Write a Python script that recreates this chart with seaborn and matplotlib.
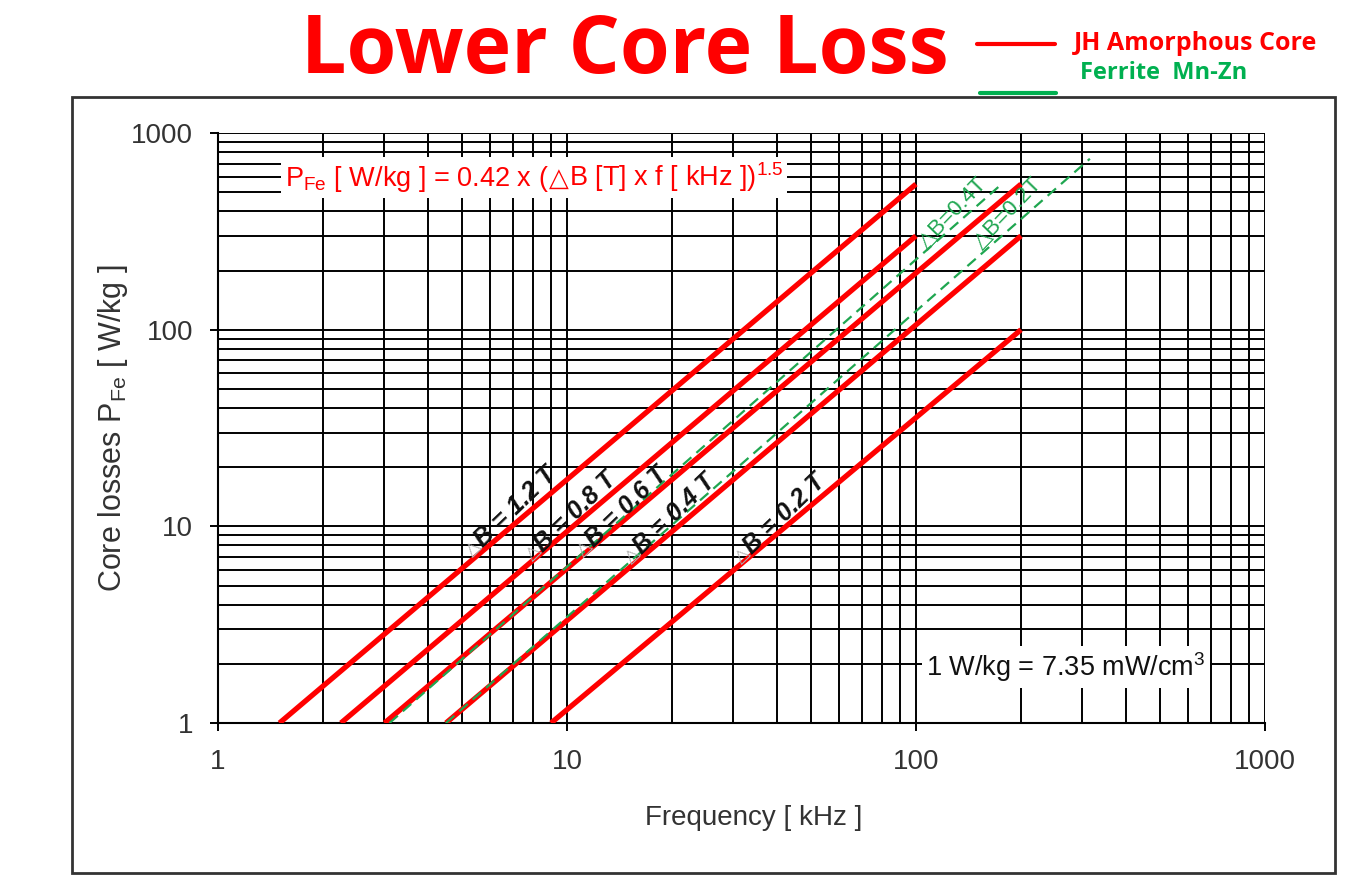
import matplotlib
matplotlib.use("Agg")
import matplotlib.pyplot as plt
import matplotlib.patches as mpatches
from matplotlib.offsetbox import TextArea, HPacker, AnchoredOffsetbox
from matplotlib.ticker import LogLocator, NullFormatter, FixedLocator, FixedFormatter
import pandas as pd
import seaborn as sns

# amorphous core lines: start at 1 W/kg, end points
red_db = ["1.2", "0.8", "0.6", "0.4", "0.2"]
red_f_start = [1.5, 2.25, 3.0, 4.5, 9.0]
red_p_start = [1, 1, 1, 1, 1]
red_f_end = [100, 100, 200, 200, 200]
red_p_end = [550, 300, 550, 300, 100]

# ferrite Mn-Zn lines
green_db = ["0.4", "0.2"]
green_f_start = [3.1, 4.5]
green_p_start = [1, 1]
green_f_end = [176, 315]
green_p_end = [550, 740]

# label anchor points (where "B" begins)
red_label_f = [5.56, 8.26, 11.6, 15.9, 32.8]
red_label_p = [8.2, 7.8, 8.2, 7.55, 7.55]
green_label_f = [127.7, 183.5]
green_label_p = [393, 393]

ticks = [1, 10, 100, 1000]
tick_labels = ["1", "10", "100", "1000"]

sns.set_theme(style="white")
plt.rcParams["font.family"] = ["Liberation Sans", "DejaVu Sans"]
plt.rcParams["mathtext.fontset"] = "custom"
plt.rcParams["mathtext.rm"] = "Liberation Sans"
plt.rcParams["mathtext.it"] = "Liberation Sans:italic"

RED = "#ff0000"
GREEN = "#1fa650"
TXT = "#333333"

red_df = pd.DataFrame({
    "db": red_db * 2,
    "f": red_f_start + red_f_end,
    "p": red_p_start + red_p_end,
})
green_df = pd.DataFrame({
    "db": green_db * 2,
    "f": green_f_start + green_f_end,
    "p": green_p_start + green_p_end,
})

fig = plt.figure(figsize=(13.59, 8.84), dpi=100)
ax = fig.add_axes([0.1604, 0.1821, 0.7704, 0.6674])

ax.set_xscale("log")
ax.set_yscale("log")
ax.set_xlim(1, 1000)
ax.set_ylim(1, 1000)

ax.grid(True, which="both", color="black", linewidth=1.4)
ax.set_axisbelow(True)

for db in red_db:
    d = red_df[red_df["db"] == db]
    sns.lineplot(data=d, x="f", y="p", ax=ax, color=RED, linewidth=3.8,
                 solid_capstyle="butt", zorder=4)
for db in green_db:
    d = green_df[green_df["db"] == db]
    sns.lineplot(data=d, x="f", y="p", ax=ax, color=GREEN, linewidth=1.6,
                 linestyle=(0, (5, 3)), zorder=5)

ax.xaxis.set_major_locator(FixedLocator(ticks))
ax.xaxis.set_major_formatter(FixedFormatter(tick_labels))
ax.yaxis.set_major_locator(FixedLocator(ticks))
ax.yaxis.set_major_formatter(FixedFormatter(tick_labels))
for a in (ax.xaxis, ax.yaxis):
    a.set_minor_locator(LogLocator(base=10, subs=range(2, 10)))
    a.set_minor_formatter(NullFormatter())

ax.tick_params(which="major", direction="out", length=6, width=1.4,
               color="black", labelsize=20, labelcolor=TXT,
               bottom=True, left=True)
ax.tick_params(axis="x", which="major", pad=13)
ax.tick_params(axis="y", which="major", pad=12)
ax.tick_params(which="minor", length=0)

for s in ["top", "right"]:
    ax.spines[s].set_visible(False)
for s in ["left", "bottom"]:
    ax.spines[s].set_color("black")
    ax.spines[s].set_linewidth(1.5)

ax.set_xlabel("Frequency [ kHz ]", fontsize=20, color=TXT)
ax.set_ylabel(r"Core losses P$_{\mathrm{Fe}}$ [ W/kg ]", fontsize=22, color=TXT)
ax.xaxis.set_label_coords(0.512, -0.139)
ax.yaxis.set_label_coords(-0.084, 0.5)

# line labels
for db, f, p in zip(red_db, red_label_f, red_label_p):
    ax.text(f, p, "B = %s T" % db, rotation=44, rotation_mode="anchor",
            ha="left", va="center", fontsize=18, fontweight="bold",
            fontstyle="italic", color="#111111", zorder=6)
    ax.text(f, p, "\u25b3", rotation=44, rotation_mode="anchor",
            ha="right", va="center", fontsize=13, color="#aaaaaa",
            family=["DejaVu Sans"], zorder=6)
for db, f, p in zip(green_db, green_label_f, green_label_p):
    ax.text(f, p, "\u25b3B=%sT" % db, rotation=46, rotation_mode="anchor",
            ha="center", va="center", fontsize=16, color=GREEN,
            zorder=6)

# formula box
fs = 19.5
parts = HPacker(children=[
    TextArea(r"P$_{\mathrm{Fe}}$ [ W/kg ] = 0.42 x (",
             textprops=dict(color=RED, fontsize=fs)),
    TextArea("\u25b3", textprops=dict(color=RED, fontsize=fs - 1,
                                      family=["DejaVu Sans"])),
    TextArea(r"B [T] x f [ kHz ])$^{\mathrm{1.5}}$",
             textprops=dict(color=RED, fontsize=fs)),
], align="baseline", pad=0, sep=0)
formula = AnchoredOffsetbox(loc="center", child=parts, pad=0.25, borderpad=0,
                            frameon=True, bbox_to_anchor=(0.302, 0.925),
                            bbox_transform=ax.transAxes)
formula.patch.set_facecolor("white")
formula.patch.set_edgecolor("none")
formula.patch.set_boxstyle("square", pad=0)
formula.set_zorder(7)
ax.add_artist(formula)

ax.text(0.81, 0.095, r"1 W/kg = 7.35 mW/cm$^{\mathrm{3}}$",
        transform=ax.transAxes, ha="center", va="center", fontsize=19.5,
        color="#111111", zorder=7,
        bbox=dict(facecolor="white", edgecolor="none", pad=3))

# title and legend on figure
fig.text(0.46, 0.941, "Lower Core Loss", ha="center", va="center",
         fontsize=58, fontweight="bold", color=RED, family=["Open Sans", "DejaVu Sans"])
fig.add_artist(plt.Line2D([0.719, 0.776], [0.950, 0.950], color=RED,
                          linewidth=3, transform=fig.transFigure))
fig.add_artist(plt.Line2D([0.721, 0.777], [0.895, 0.895], color="#00b050",
                          linewidth=3, transform=fig.transFigure))
fig.text(0.790, 0.951, "JH Amorphous Core", ha="left", va="center",
         fontsize=18, fontweight="bold", color=RED, family=["Open Sans", "DejaVu Sans"])
fig.text(0.795, 0.917, "Ferrite  Mn-Zn", ha="left", va="center",
         fontsize=17, fontweight="bold", color="#00b050", family=["Open Sans", "DejaVu Sans"])

fig.add_artist(mpatches.Rectangle((0.053, 0.0124), 0.929, 0.8776,
                                  transform=fig.transFigure, fill=False,
                                  edgecolor="#333333", linewidth=2))

fig.savefig("out.png", dpi=100)
